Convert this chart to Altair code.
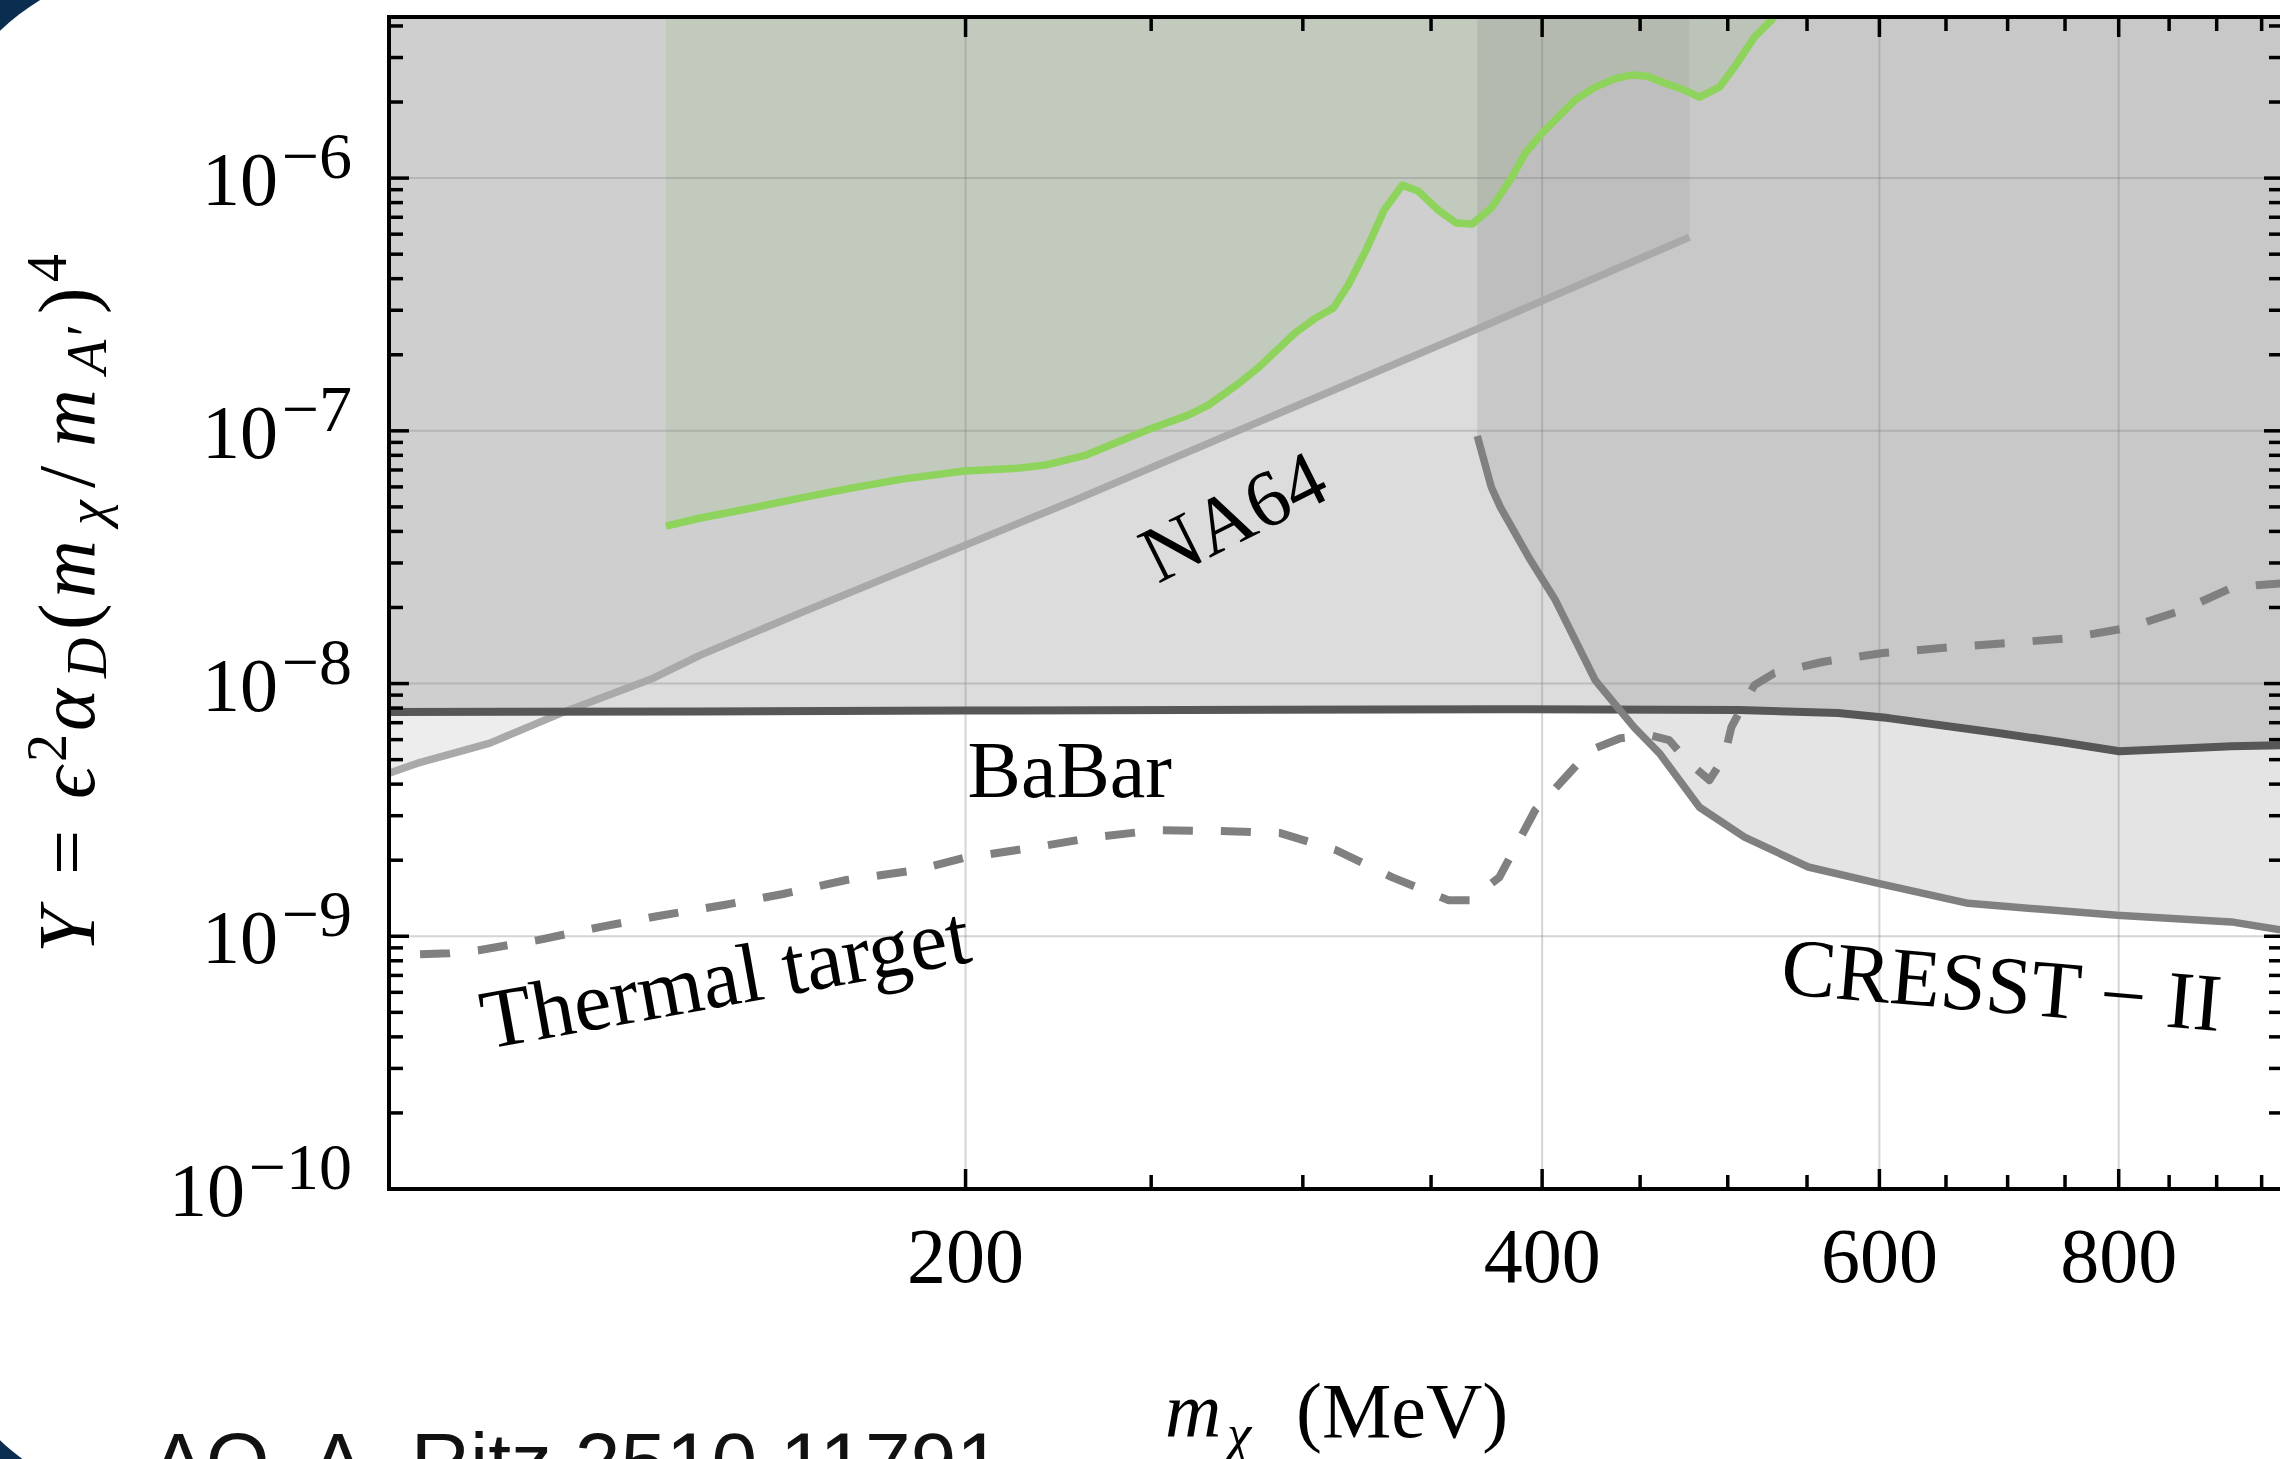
import altair as alt
import pandas as pd

# ---------------- values ----------------
green_m = [139.5, 145.4, 154.5, 163.9, 174.3, 185.3, 199.7, 213.3, 220.1, 231.2,
           248.8, 261.4, 267.8, 277.9, 284.6, 297.2, 304.5, 311.2, 316.8, 323.7,
           330.8, 338.1, 344.6, 353.0, 360.7, 367.7, 376.2, 384.9, 392.0, 400.0,
           416.2, 426.4, 436.3, 445.8, 453.9, 463.3, 474.6, 483.3, 495.0, 504.0,
           516.3, 527.0, 535.8]
green_Y = [4.20e-8, 4.52e-8, 4.94e-8, 5.42e-8, 5.93e-8, 6.44e-8, 6.93e-8, 7.12e-8, 7.32e-8, 8.02e-8,
           1.007e-7, 1.154e-7, 1.264e-7, 1.545e-7, 1.787e-7, 2.44e-7, 2.79e-7, 3.06e-7, 3.77e-7, 5.19e-7,
           7.47e-7, 9.38e-7, 8.89e-7, 7.47e-7, 6.64e-7, 6.58e-7, 7.61e-7, 9.82e-7, 1.256e-6, 1.507e-6,
           2.04e-6, 2.29e-6, 2.47e-6, 2.56e-6, 2.53e-6, 2.38e-6, 2.23e-6, 2.09e-6, 2.29e-6, 2.75e-6,
           3.61e-6, 4.22e-6, 5.06e-6]

na64_m = [100.0, 103.5, 112.9, 123.0, 137.4, 145.2, 163.9, 228.1, 370.9, 477.5]
na64_Y = [4.42e-9, 4.84e-9, 5.81e-9, 7.64e-9, 1.05e-8, 1.29e-8, 1.90e-8, 5.32e-8, 2.55e-7, 5.84e-7]

babar_m = [100.0, 145.3, 199.7, 380.4, 507.0, 571.0, 606.6, 692.1, 747.3, 800.6, 868.8, 916.0, 971.6]
babar_Y = [7.72e-9, 7.75e-9, 7.82e-9, 7.92e-9, 7.85e-9, 7.64e-9, 7.30e-9, 6.37e-9, 5.86e-9,
           5.40e-9, 5.55e-9, 5.65e-9, 5.70e-9]

cresst_m = [370.0, 376.3, 380.4, 394.4, 406.4, 426.4, 446.8, 460.5, 483.3, 510.2,
            550.8, 599.2, 667.6, 798.6, 916.0, 971.6]
cresst_Y = [9.53e-8, 5.98e-8, 4.99e-8, 3.08e-8, 2.14e-8, 1.03e-8, 6.71e-9, 5.31e-9, 3.24e-9, 2.47e-9,
            1.88e-9, 1.62e-9, 1.35e-9, 1.21e-9, 1.14e-9, 1.06e-9]

thermal_m = [103.8, 107.5, 111.4, 119.6, 129.0, 138.0, 149.6, 160.6, 173.3, 188.7,
             199.4, 217.5, 234.0, 251.8, 270.9, 292.0, 312.3, 334.1, 357.3, 366.8,
             379.9, 387.3, 396.7, 408.8, 423.8, 439.4, 455.0, 466.0, 477.5, 489.1,
             497.9, 502.2, 507.0, 516.3, 528.8, 561.0, 602.7, 651.9, 704.0, 752.0,
             808.6, 863.6, 916.0, 944.0, 971.6]
thermal_Y = [8.49e-10, 8.57e-10, 8.81e-10, 9.66e-10, 1.09e-9, 1.20e-9, 1.33e-9, 1.47e-9, 1.67e-9, 1.83e-9,
             2.04e-9, 2.25e-9, 2.47e-9, 2.63e-9, 2.61e-9, 2.56e-9, 2.19e-9, 1.71e-9, 1.39e-9, 1.39e-9,
             1.71e-9, 2.25e-9, 3.16e-9, 4.04e-9, 5.45e-9, 6.08e-9, 6.25e-9, 5.97e-9, 4.84e-9, 4.15e-9,
             5.12e-9, 6.72e-9, 7.71e-9, 9.86e-9, 1.10e-8, 1.22e-8, 1.32e-8, 1.39e-8, 1.45e-8, 1.51e-8,
             1.66e-8, 1.95e-8, 2.39e-8, 2.45e-8, 2.49e-8]

x_major = [200, 400, 600, 800]
x_major_labels = ["200", "400", "600", "800"]
x_minor = [250, 300, 350, 450, 500, 550, 650, 700, 750, 850, 900, 950]
y_major = [1e-9, 1e-8, 1e-7, 1e-6]
y_minor = [2e-10, 3e-10, 4e-10, 5e-10, 6e-10, 7e-10, 8e-10, 9e-10,
           2e-9, 3e-9, 4e-9, 5e-9, 6e-9, 7e-9, 8e-9, 9e-9,
           2e-8, 3e-8, 4e-8, 5e-8, 6e-8, 7e-8, 8e-8, 9e-8,
           2e-7, 3e-7, 4e-7, 5e-7, 6e-7, 7e-7, 8e-7, 9e-7,
           2e-6, 3e-6, 4e-6]
y_label_vals = [1e-10, 1e-9, 1e-8, 1e-7, 1e-6]
y_label_sups = ["\u221210", "\u22129", "\u22128", "\u22127", "\u22126"]

label_text = ["NA64", "BaBar", "Thermal target", "CRESST \u2212 II"]
label_m = [279.9, 226.7, 150.7, 693.0]
label_Y = [3.69e-8, 3.55e-9, 5.34e-10, 5.0e-10]

# ---------------- layout ----------------
W, H = 1891, 1172
XMAX = 971.2
YMIN, YMAX = 1e-10, 4.34e-6
TOP = 1e-5
SERIF = "Liberation Serif"
NAVY = "#0b2d4f"
GREEN = "#8ed35c"
GREY = "#808080"

xs = alt.Scale(type="log", domain=[100, XMAX], nice=False)
ys = alt.Scale(type="log", domain=[YMIN, YMAX], nice=False)


def frame(m, Y):
    return pd.DataFrame({"m": m, "Y": Y, "top": [TOP] * len(m)})


def xenc():
    return alt.X("m:Q", scale=xs, axis=None)


def yenc():
    return alt.Y("Y:Q", scale=ys, axis=None)


dummy = pd.DataFrame({"a": [0]})

bg = alt.Chart(dummy).mark_rect(color="white", cornerRadius=250).encode(
    x=alt.value(-468), x2=alt.value(W + 300), y=alt.value(-54), y2=alt.value(1491))


def fill(m, Y, color, op):
    return alt.Chart(frame(m, Y)).mark_area(color=color, opacity=op, clip=True).encode(
        x=xenc(), y=yenc(), y2=alt.Y2("top:Q"))


green_fill = fill(green_m, green_Y, GREEN, 0.18)
na64_fill = fill(na64_m, na64_Y, GREY, 0.14)
babar_fill = fill(babar_m, babar_Y, GREY, 0.275)
cresst_fill = fill(cresst_m, cresst_Y, GREY, 0.21)

vgrid = alt.Chart(pd.DataFrame({"v": x_major})).mark_rule(color=GREY, opacity=0.33, strokeWidth=2).encode(
    x=alt.X("v:Q", scale=xs, axis=None))
hgrid = alt.Chart(pd.DataFrame({"v": y_major})).mark_rule(color=GREY, opacity=0.33, strokeWidth=2).encode(
    y=alt.Y("v:Q", scale=ys, axis=None))


def line(m, Y, color, width, dash=None):
    kw = dict(color=color, strokeWidth=width, clip=True, strokeJoin="round")
    if dash:
        kw["strokeDash"] = dash
        kw["strokeCap"] = "butt"
    return alt.Chart(frame(m, Y)).mark_line(**kw).encode(x=xenc(), y=yenc())


na64_line = line(na64_m, na64_Y, "#a9a9a9", 7.5)
green_line = line(green_m, green_Y, GREEN, 7.5)
babar_line = line(babar_m, babar_Y, "#575757", 8)
cresst_line = line(cresst_m, cresst_Y, GREY, 7.5)
thermal_line = line(thermal_m, thermal_Y, GREY, 8, dash=[30, 28])


def yticks(vals, x0, x1):
    return alt.Chart(pd.DataFrame({"v": vals})).mark_rule(color="black", strokeWidth=3.5).encode(
        y=alt.Y("v:Q", scale=ys, axis=None), x=alt.value(x0), x2=alt.value(x1))


def xticks(vals, y0, y1):
    return alt.Chart(pd.DataFrame({"v": vals})).mark_rule(color="black", strokeWidth=3.5).encode(
        x=alt.X("v:Q", scale=xs, axis=None), y=alt.value(y0), y2=alt.value(y1))


ticks = [
    yticks(y_major, 0, 20), yticks(y_minor, 0, 14),
    yticks(y_major, W - 16, W), yticks(y_minor, W - 11, W),
    xticks(x_major, H, H - 20), xticks(x_minor, H, H - 14),
    xticks(x_major, 0, 20), xticks(x_minor, 0, 14),
]

# frame (left, top, bottom spines)
top_line = alt.Chart(dummy).mark_rule(color="black", strokeWidth=4).encode(
    x=alt.value(-2), x2=alt.value(W), y=alt.value(0))
bottom_line = alt.Chart(dummy).mark_rule(color="black", strokeWidth=4).encode(
    x=alt.value(-2), x2=alt.value(W), y=alt.value(H))
left_line = alt.Chart(dummy).mark_rule(color="black", strokeWidth=4).encode(
    x=alt.value(0), y=alt.value(-2), y2=alt.value(H + 2))

# x tick labels
xlab = alt.Chart(pd.DataFrame({"v": x_major, "lab": x_major_labels})).mark_text(
    align="center", baseline="alphabetic", font=SERIF, fontSize=78, color="black").encode(
    x=alt.X("v:Q", scale=xs, axis=None), y=alt.value(H + 93), text="lab:N")

# y tick labels 10^n
ylab_df = pd.DataFrame({"v": y_label_vals, "sup": y_label_sups})
ylab_base = alt.Chart(ylab_df).transform_calculate(
    px="-41 - (length(datum.sup) > 2 ? 103 : 70)"
).mark_text(text="10", align="right", baseline="alphabetic", dy=27, font=SERIF,
            fontSize=76, color="black").encode(
    y=alt.Y("v:Q", scale=ys, axis=None), x=alt.X("px:Q", scale=None, axis=None))
ylab_sup = alt.Chart(ylab_df).mark_text(align="right", baseline="alphabetic", font=SERIF,
                                        fontSize=66, color="black").encode(
    y=alt.Y("v:Q", scale=ys, axis=None), x=alt.value(-37), text="sup:N")

# region labels
lab_df = pd.DataFrame({"t": label_text, "m": label_m, "Y": label_Y})
label_angles = [333.5, 0, 349.8, 4.9]
label_sizes = [80, 80, 84, 82]
labels = []
for i in range(len(label_text)):
    labels.append(
        alt.Chart(lab_df.iloc[[i]]).mark_text(
            align="center", baseline="alphabetic", font=SERIF, fontSize=label_sizes[i],
            angle=label_angles[i], color="black").encode(
            x=xenc(), y=yenc(), text="t:N"))

# y axis title pieces  Y = eps^2 alpha_D (m_chi / m_A')^4
title_pieces = [
    ("Y", 936, "main", "italic"), ("=", 858, "main", "normal"), ("\u03f5", 782, "main", "italic"),
    ("2", 745, "sup", "normal"), ("\u03b1", 714, "main", "italic"), ("D", 661, "sub", "italic"),
    ("(", 613, "main", "normal"), ("m", 581, "main", "italic"), ("\u03c7", 508, "sub", "italic"),
    ("/", 471, "main", "normal"), ("m", 430, "main", "italic"), ("A\u2032", 357, "sub", "italic"),
    (")", 297, "main", "normal"), ("4", 265, "sup", "normal"),
]
base_x = {"main": -295, "sub": -283, "sup": -323}
size_of = {"main": 80, "sub": 56, "sup": 56}
ytitle = []
for txt, py, kind, style in title_pieces:
    ytitle.append(alt.Chart(dummy).mark_text(
        text=txt, angle=270, align="left", baseline="alphabetic", font=SERIF,
        fontSize=size_of[kind], fontStyle=style, color="black").encode(
        x=alt.value(base_x[kind]), y=alt.value(py)))

xtitle_pieces = [("m", 776, 1420, 78, "italic"), ("\u03c7", 838, 1435, 55, "italic"),
                 ("(MeV)", 907, 1420, 78, "normal")]
xtitle = []
for txt, px, py, fs, style in xtitle_pieces:
    xtitle.append(alt.Chart(dummy).mark_text(
        text=txt, align="left", baseline="alphabetic", font=SERIF, fontSize=fs,
        fontStyle=style, color="black").encode(x=alt.value(px), y=alt.value(py)))

credit = alt.Chart(dummy).mark_text(
    text="AO, A. Ritz 2510.11791", align="left", baseline="alphabetic",
    font="Liberation Sans", fontSize=82, color="#111111").encode(
    x=alt.value(-238), y=alt.value(1473))

chart = alt.layer(
    bg, green_fill, na64_fill, babar_fill, cresst_fill, vgrid, hgrid,
    na64_line, green_line, babar_line, cresst_line, thermal_line,
    *ticks, top_line, bottom_line, left_line, xlab, ylab_base, ylab_sup,
    *labels, *ytitle, *xtitle, credit
).properties(
    width=W, height=H,
    padding={"left": 389, "top": 17, "right": 0, "bottom": 270},
    autosize=alt.AutoSizeParams(type="none"),
).configure(background=NAVY).configure_view(stroke=None)

chart.save("out.html", embed_options={"renderer": "svg", "actions": False})
